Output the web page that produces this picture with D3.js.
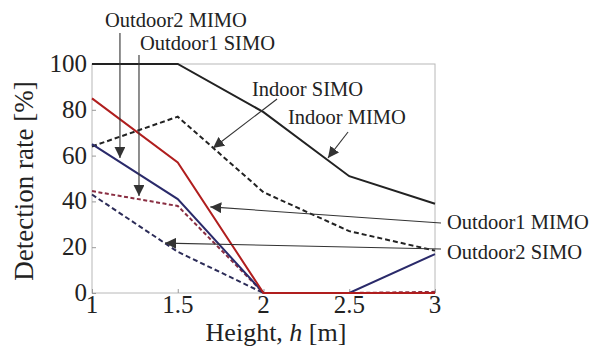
<!DOCTYPE html>
<html>
<head>
<meta charset="utf-8">
<script src="https://cdn.jsdelivr.net/npm/d3@7"></script>
<style>
  body { margin: 0; background: #fff; }
  svg text { font-family: "Liberation Serif", "DejaVu Serif", serif; fill: #222; }
  .frame { fill: none; stroke: #b8b8b8; stroke-width: 1; }
  .tick line { stroke: #999; }
  .curve { fill: none; stroke-width: 2; }
  .pointer { stroke: #333; stroke-width: 1.1; fill: none; }
</style>
</head>
<body>
<div id="chart"></div>
<script>
var heights = [1, 1.5, 2, 2.5, 3]

var indoor_mimo = [100, 100, 79, 51, 39]
var indoor_simo = [64, 77, 44, 27, 18.5]
var outdoor1_mimo = [85, 57, 0, 0, 0]
var outdoor1_simo = [44.5, 38, 0, 0, 0.5]
var outdoor2_mimo = [65, 41, 0, 0, 17]
var outdoor2_simo = [43, 18, 0, 0, 0]

var x_ticks = [1, 1.5, 2, 2.5, 3]
var y_ticks = [0, 20, 40, 60, 80, 100]

// label: text start (tx, ty), pointer from (lx, ly) to tip (px, py), all in data units
var notes = [
  { label: "Outdoor2 MIMO", tx: 1.076, ty: 116.2, lx: 1.163, ly: 113.5, px: 1.163, py: 59 },
  { label: "Outdoor1 SIMO", tx: 1.28, ty: 106.1, lx: 1.274, ly: 103.9, px: 1.274, py: 42.4 },
  { label: "Indoor SIMO", tx: 1.933, ty: 86, lx: 2.079, ly: 84.7, px: 1.706, py: 63.3 },
  { label: "Indoor MIMO", tx: 2.143, ty: 73.8, lx: 2.493, ly: 70.3, px: 2.376, py: 59 },
  { label: "Outdoor1 MIMO", tx: 3.07, ty: 28, lx: 3.035, ly: 30.6, px: 1.69, py: 37.6 },
  { label: "Outdoor2 SIMO", tx: 3.07, ty: 14.8, lx: 3.035, ly: 19.2, px: 1.426, py: 21.8 }
]

var width = 602, height = 355
var margin = { top: 64, right: 167, bottom: 62, left: 92 }

var svg = d3.select("#chart").append("svg")
  .attr("width", width)
  .attr("height", height)

var x = d3.scaleLinear().domain([1, 3]).range([margin.left, width - margin.right])
var y = d3.scaleLinear().domain([0, 100]).range([height - margin.bottom, margin.top])

var defs = svg.append("defs")
defs.append("marker")
  .attr("id", "arrowhead")
  .attr("viewBox", "0 -5 10 10")
  .attr("refX", 10)
  .attr("refY", 0)
  .attr("markerWidth", 11)
  .attr("markerHeight", 11)
  .attr("markerUnits", "userSpaceOnUse")
  .attr("orient", "auto")
  .append("path")
    .attr("d", "M0,-5L10,0L0,5Z")
    .attr("fill", "#333")

// frame
svg.append("rect")
  .attr("class", "frame")
  .attr("x", x(1))
  .attr("y", y(100))
  .attr("width", x(3) - x(1))
  .attr("height", y(0) - y(100))

// inward ticks
svg.append("g")
  .attr("transform", "translate(0," + y(0) + ")")
  .call(d3.axisBottom(x).tickValues(x_ticks).tickSize(-4).tickFormat(""))
svg.append("g")
  .attr("transform", "translate(" + x(1) + ",0)")
  .call(d3.axisLeft(y).tickValues(y_ticks).tickSize(-4).tickFormat(""))
svg.selectAll(".domain").remove()

// tick labels
svg.append("g").selectAll("text")
  .data(x_ticks)
  .join("text")
    .attr("x", function (d) { return x(d) })
    .attr("y", y(0) + 20)
    .attr("text-anchor", "middle")
    .style("font-size", "25px")
    .text(function (d) { return d })

svg.append("g").selectAll("text")
  .data(y_ticks)
  .join("text")
    .attr("x", x(1) - 5)
    .attr("y", function (d) { return y(d) + 8 })
    .attr("text-anchor", "end")
    .style("font-size", "25px")
    .text(function (d) { return d })

// axis titles
var xtitle = svg.append("text")
  .attr("x", 276)
  .attr("y", 341)
  .attr("text-anchor", "middle")
  .style("font-size", "26px")
xtitle.append("tspan").text("Height,  ")
xtitle.append("tspan").style("font-style", "italic").text("h")
xtitle.append("tspan").text(" [m]")

svg.append("text")
  .attr("transform", "translate(33,181) rotate(-90)")
  .attr("text-anchor", "middle")
  .style("font-size", "27px")
  .text("Detection rate [%]")

// curves
var line = d3.line()
  .x(function (d) { return x(d[0]) })
  .y(function (d) { return y(d[1]) })

var series = [
  { values: outdoor2_simo, color: "#2c2c58", dash: "5,3" },
  { values: outdoor1_simo, color: "#8a2e42", dash: "4,2.5" },
  { values: indoor_simo, color: "#222", dash: "5,3" },
  { values: outdoor2_mimo, color: "#2a2a6a", dash: null },
  { values: indoor_mimo, color: "#222", dash: null },
  { values: outdoor1_mimo, color: "#b01e1e", dash: null }
]

svg.append("g").selectAll("path")
  .data(series)
  .join("path")
    .attr("class", "curve")
    .attr("stroke", function (d) { return d.color })
    .attr("stroke-dasharray", function (d) { return d.dash })
    .attr("d", function (d) { return line(d3.zip(heights, d.values)) })

// annotations
var note_g = svg.append("g")
note_g.selectAll("line")
  .data(notes)
  .join("line")
    .attr("class", "pointer")
    .attr("x1", function (d) { return x(d.lx) })
    .attr("y1", function (d) { return y(d.ly) })
    .attr("x2", function (d) { return x(d.px) })
    .attr("y2", function (d) { return y(d.py) })
    .attr("marker-end", "url(#arrowhead)")

note_g.selectAll("text")
  .data(notes)
  .join("text")
    .attr("x", function (d) { return x(d.tx) })
    .attr("y", function (d) { return y(d.ty) })
    .style("font-size", "20.5px")
    .text(function (d) { return d.label })
</script>
</body>
</html>
